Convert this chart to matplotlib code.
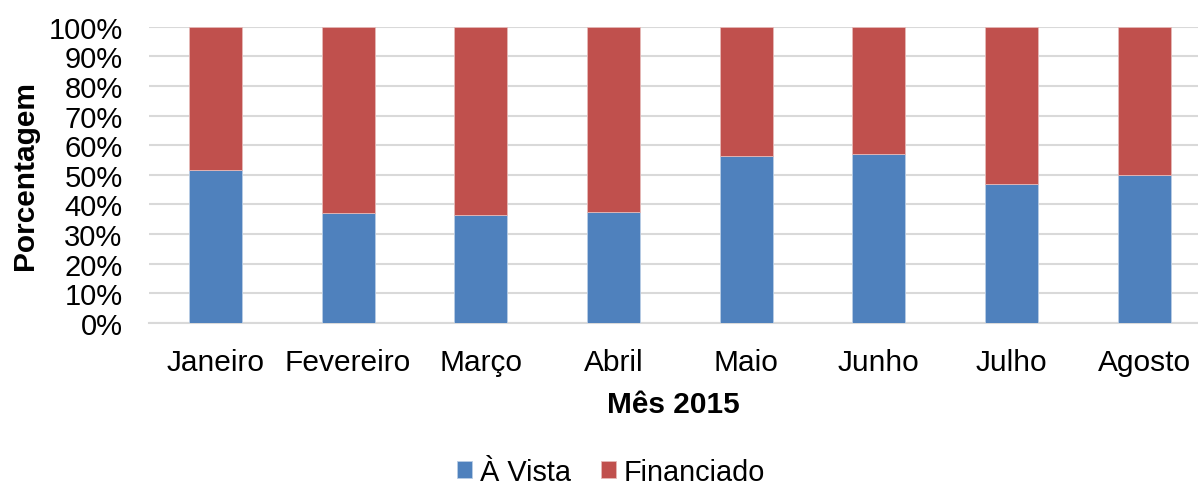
import matplotlib
matplotlib.use("Agg")
import matplotlib.pyplot as plt
import numpy as np

months = ["Janeiro", "Fevereiro", "Março", "Abril", "Maio", "Junho", "Julho", "Agosto"]
a_vista = [51.8, 37.1, 36.3, 37.5, 56.3, 57.2, 46.9, 50.0]
financiado = [100 - v for v in a_vista]

plt.rcParams["font.family"] = ["Liberation Sans", "DejaVu Sans"]

fig = plt.figure(figsize=(11.98, 4.85), dpi=100)
ax = fig.add_axes([149 / 1198, 1 - 324 / 485, 1 - 149 / 1198, (324 - 27.7) / 485])

x = np.arange(len(months))
ax.bar(x, a_vista, width=0.4, color="#4F81BD", edgecolor="#B9CDE5", lw=0.6,
       label="À Vista", zorder=3)
ax.bar(x, financiado, width=0.4, bottom=a_vista, color="#C0504D",
       edgecolor="#E6B9B8", lw=0.6, label="Financiado", zorder=3)

ax.set_xlim(-0.5, -0.5 + (1198 - 149) / 132.7)
ax.set_ylim(0, 100)
ax.set_yticks(np.arange(0, 101, 10))
ax.set_yticklabels([f"{v}%" for v in range(0, 101, 10)], fontsize=21)
ax.set_xticks(x)
ax.set_xticklabels(months, fontsize=21.5)
ax.tick_params(length=0)
ax.tick_params(axis="x", pad=18)
ax.tick_params(axis="y", pad=19)
ax.yaxis.grid(True, color="#D9D9D9", lw=1.5, zorder=0)
for s in ("top", "right", "left"):
    ax.spines[s].set_visible(False)
ax.spines["bottom"].set_color("#D9D9D9")
ax.spines["bottom"].set_linewidth(1.5)

ax.set_xlabel("Mês 2015", fontsize=21.5, fontweight="bold", labelpad=10)
ax.set_ylabel("Porcentagem", fontsize=21.5, fontweight="bold", labelpad=7)

fig.legend(loc="center", bbox_to_anchor=(611 / 1198, 1 - 473 / 485), ncol=2,
           frameon=False, fontsize=20.8, handlelength=0.52, handleheight=0.52,
           handletextpad=0.25, columnspacing=1.05)

fig.savefig("out.png", dpi=100)
